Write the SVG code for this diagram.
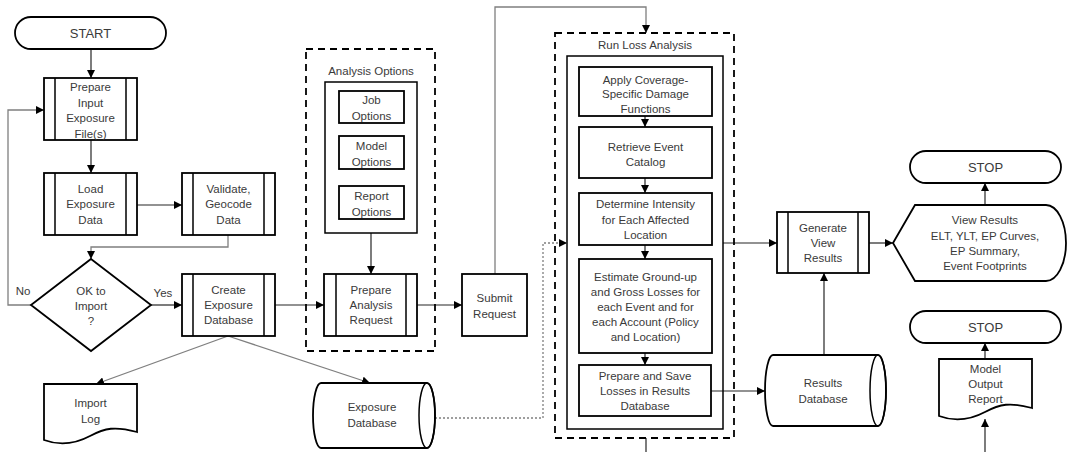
<svg xmlns="http://www.w3.org/2000/svg" width="1070" height="452" viewBox="0 0 1070 452">
<style>
.b{fill:#fff;stroke:#000;stroke-width:1.8}
.bi{fill:none;stroke:#000;stroke-width:1.5}
.d{fill:none;stroke:#000;stroke-width:1.8;stroke-dasharray:7,5}
.c{fill:none;stroke:#262626;stroke-width:1.2}
.g{fill:none;stroke:#7f7f7f;stroke-width:1.3}
.dt{fill:none;stroke:#7f7f7f;stroke-width:1.3;stroke-dasharray:2,2}
text{font-family:"Liberation Sans",Arial,sans-serif;font-size:11.5px;fill:#3a3a3a;text-anchor:middle}
.t{font-size:13px}
</style>
<defs>
<marker id="a" viewBox="0 0 10 10" refX="10" refY="5" markerWidth="8" markerHeight="8" markerUnits="userSpaceOnUse" orient="auto"><path d="M0,0L10,5L0,10Z" fill="#000"/></marker>
</defs>
<g id="connectors">
<path class="c" d="M91,49V78" marker-end="url(#a)"/>
<path class="c" d="M91,140V173" marker-end="url(#a)"/>
<path class="c" d="M137,205H182" marker-end="url(#a)"/>
<path class="g" d="M228,235V247H91V259" marker-end="url(#a)"/>
<path class="g" d="M31,305H8V110H44" marker-end="url(#a)"/>
<path class="c" d="M151,305H182" marker-end="url(#a)"/>
<path class="g" d="M228,336L96,384" marker-end="url(#a)"/>
<path class="g" d="M228,336L370,383" marker-end="url(#a)"/>
<path class="c" d="M275,305H324" marker-end="url(#a)"/>
<path class="c" d="M371,233V274" marker-end="url(#a)"/>
<path class="c" d="M417,305H462" marker-end="url(#a)"/>
<path class="g" d="M495,274V7H646V33" marker-end="url(#a)"/>
<path class="dt" d="M435,418H543V243H567" marker-end="url(#a)"/>
<path class="c" d="M645,116V127" marker-end="url(#a)"/>
<path class="c" d="M645,178V193" marker-end="url(#a)"/>
<path class="c" d="M645,245V259" marker-end="url(#a)"/>
<path class="c" d="M645,353V365" marker-end="url(#a)"/>
<path class="c" d="M646,438V452"/>
<path class="c" d="M723,243H777" marker-end="url(#a)"/>
<path class="c" d="M711,391H765" marker-end="url(#a)"/>
<path class="c" d="M824,355V273" marker-end="url(#a)"/>
<path class="c" d="M869,243H893" marker-end="url(#a)"/>
<path class="c" d="M985,205V183" marker-end="url(#a)"/>
<path class="c" d="M985,359V343" marker-end="url(#a)"/>
<path class="c" d="M985,452V419" marker-end="url(#a)"/>
</g>
<g id="start"><rect class="b" x="15" y="17" width="151" height="32" rx="16"/><text class="t" x="90.5" y="38">START</text></g>
<g id="prepareInput"><rect class="b" x="44" y="78" width="93" height="62"/><path class="bi" d="M55,78V140M126,78V140"/><text x="90.5" y="91">Prepare</text><text x="90.5" y="107">Input</text><text x="90.5" y="122">Exposure</text><text x="90.5" y="138">File(s)</text></g>
<g id="load"><rect class="b" x="44" y="173" width="93" height="62"/><path class="bi" d="M55,173V235M126,173V235"/><text x="90.5" y="193">Load</text><text x="90.5" y="208">Exposure</text><text x="90.5" y="224">Data</text></g>
<g id="validate"><rect class="b" x="182" y="173" width="93" height="62"/><path class="bi" d="M193,173V235M264,173V235"/><text x="228.5" y="193">Validate,</text><text x="228.5" y="208">Geocode</text><text x="228.5" y="224">Data</text></g>
<g id="okImport"><path class="b" d="M91,259L151,305L91,351L31,305Z"/><text x="91" y="295">OK to</text><text x="91" y="310">Import</text><text x="91" y="325">?</text><text x="23" y="295">No</text><text x="163" y="297">Yes</text></g>
<g id="createDb"><rect class="b" x="182" y="274" width="93" height="62"/><path class="bi" d="M193,274V336M264,274V336"/><text x="228.5" y="294">Create</text><text x="228.5" y="309">Exposure</text><text x="228.5" y="324">Database</text></g>
<g id="importLog"><path class="b" d="M44,384H137V432C115,426 105,428 90,436C75,444 60,446 44,440Z"/><text x="90.5" y="407">Import</text><text x="90.5" y="423">Log</text></g>
<g id="analysisOptions"><rect class="d" x="306" y="49" width="129" height="302"/><text x="371" y="75">Analysis Options</text><rect class="bi" x="325" y="82" width="92" height="151"/></g>
<g id="jobOptions"><rect class="b" x="339" y="91" width="65" height="32"/><text x="371.5" y="104">Job</text><text x="371.5" y="120">Options</text></g>
<g id="modelOptions"><rect class="b" x="339" y="136" width="65" height="33"/><text x="371.5" y="150">Model</text><text x="371.5" y="166">Options</text></g>
<g id="reportOptions"><rect class="b" x="339" y="186" width="65" height="33"/><text x="371.5" y="200">Report</text><text x="371.5" y="216">Options</text></g>
<g id="prepareAnalysis"><rect class="b" x="324" y="274" width="93" height="62"/><path class="bi" d="M336,274V336M406,274V336"/><text x="371" y="294">Prepare</text><text x="371" y="309">Analysis</text><text x="371" y="324">Request</text></g>
<g id="submit"><rect class="b" x="462" y="274" width="65" height="62"/><text x="494.5" y="302">Submit</text><text x="494.5" y="318">Request</text></g>
<g id="exposureDb"><path class="b" d="M321,383H427A8,32.5 0 0 1 427,448H321A8,32.5 0 0 1 321,383Z"/><ellipse class="bi" cx="427" cy="415.5" rx="8" ry="32.5"/><text x="372" y="411">Exposure</text><text x="372" y="427">Database</text></g>
<g id="runLoss"><rect class="d" x="555" y="33" width="179" height="405"/><text x="645" y="49">Run Loss Analysis</text><rect class="bi" x="567" y="56" width="156" height="373"/></g>
<g id="applyCoverage"><rect class="b" x="579" y="67" width="133" height="49"/><text x="645.5" y="84">Apply Coverage-</text><text x="645.5" y="98">Specific Damage</text><text x="645.5" y="113">Functions</text></g>
<g id="retrieve"><rect class="b" x="579" y="127" width="133" height="51"/><text x="645.5" y="151">Retrieve Event</text><text x="645.5" y="166">Catalog</text></g>
<g id="determine"><rect class="b" x="579" y="193" width="133" height="52"/><text x="645.5" y="208">Determine Intensity</text><text x="645.5" y="224">for Each Affected</text><text x="645.5" y="239">Location</text></g>
<g id="estimate"><rect class="b" x="579" y="259" width="133" height="94"/><text x="645.5" y="281">Estimate Ground-up</text><text x="645.5" y="296">and Gross Losses for</text><text x="645.5" y="311">each Event and for</text><text x="645.5" y="326">each Account (Policy</text><text x="645.5" y="341">and Location)</text></g>
<g id="prepareSave"><rect class="b" x="579" y="365" width="132" height="51"/><text x="645" y="380">Prepare and Save</text><text x="645" y="395">Losses in Results</text><text x="645" y="410">Database</text></g>
<g id="generate"><rect class="b" x="777" y="212" width="92" height="61"/><path class="bi" d="M788,212V273M858,212V273"/><text x="823" y="232">Generate</text><text x="823" y="247">View</text><text x="823" y="262">Results</text></g>
<g id="viewResults"><path class="b" d="M893,243L915,205H1046A20,38 0 0 1 1046,281H915Z"/><text x="985" y="224">View Results</text><text x="985" y="240">ELT, YLT, EP Curves,</text><text x="985" y="255">EP Summary,</text><text x="985" y="270">Event Footprints</text></g>
<g id="stop1"><rect class="b" x="910" y="151" width="151" height="32" rx="16"/><text class="t" x="985.5" y="172">STOP</text></g>
<g id="resultsDb"><path class="b" d="M773,355H878A8,35.5 0 0 1 878,426H773A8,35.5 0 0 1 773,355Z"/><ellipse class="bi" cx="878" cy="390.5" rx="8" ry="35.5"/><text x="823" y="387">Results</text><text x="823" y="403">Database</text></g>
<g id="stop2"><rect class="b" x="910" y="311" width="151" height="32" rx="16"/><text class="t" x="985.5" y="332">STOP</text></g>
<g id="modelOutput"><path class="b" d="M939,359H1032V408C1010,402 1000,404 985,412C970,420 955,422 939,416Z"/><text x="985.5" y="373">Model</text><text x="985.5" y="388">Output</text><text x="985.5" y="403">Report</text></g>
</svg>
